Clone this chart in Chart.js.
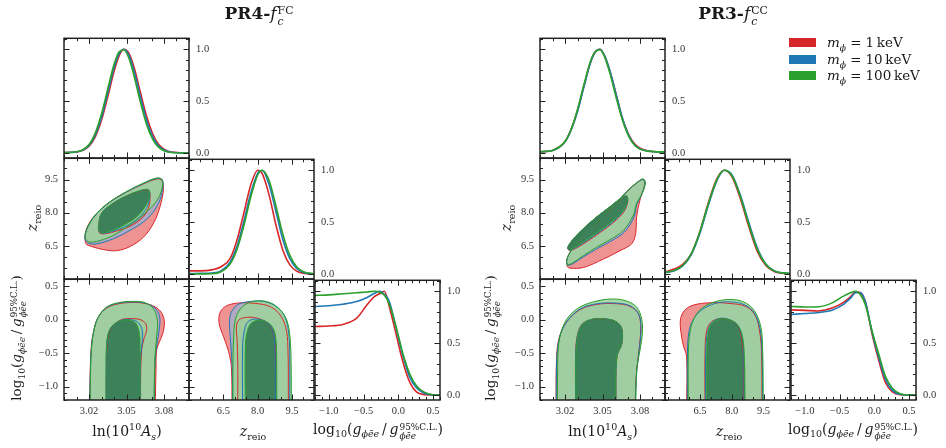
<!DOCTYPE html>
<html><head><meta charset="utf-8">
<script src="https://cdn.jsdelivr.net/npm/chart.js"></script>
<style>
html,body{margin:0;padding:0;background:#fff;}
#root{position:relative;width:946px;height:448px;overflow:hidden;background:#fff;}
canvas{position:absolute;}
.t{position:absolute;white-space:nowrap;font-family:'DejaVu Serif','Liberation Serif',serif;color:#1a1a1a;transform:translate(-50%,-50%);line-height:1;}
.t sub,.t sup{font-size:0.68em;line-height:0;}
.ss{display:inline-block;vertical-align:-0.55em;line-height:1.0;font-size:0.64em;margin-left:1px;}
.ss>span{display:block;}
.rot{transform:translate(-50%,-50%) rotate(-90deg);}
.lg{position:absolute;width:27px;height:9px;}
.eq{margin:0 0.3em;}
</style></head><body><div id="root"></div>
<script>
// ---------------- tick labels ----------------
const AS_TICKS = [3.02, 3.05, 3.08];
const Z_TICKS = [6.5, 8.0, 9.5];
const G_TICKS = [-1.0, -0.5, 0.0, 0.5];
const P_TICKS = [0.0, 0.5, 1.0];

// ---------------- LEFT (PR4) 1D marginals ----------------
const L_as_x     = [3.000,3.010,3.020,3.025,3.030,3.035,3.040,3.044,3.048,3.052,3.056,3.061,3.066,3.071,3.076,3.086,3.100];
const L_as_red   = [0.005,0.010,0.065,0.156,0.317,0.542,0.784,0.934,1.000,0.960,0.828,0.590,0.358,0.183,0.079,0.009,0.000];
const L_as_blue  = [0.005,0.011,0.073,0.172,0.345,0.580,0.820,0.955,1.000,0.940,0.790,0.545,0.318,0.155,0.064,0.007,0.000];
const L_as_green = [0.005,0.012,0.083,0.192,0.375,0.617,0.852,0.973,0.995,0.910,0.745,0.497,0.278,0.131,0.052,0.005,0.000];

const L_z_x     = [5.0,5.5,6.0,6.4,6.8,7.1,7.4,7.7,8.0,8.2,8.5,8.8,9.1,9.4,9.7,10.0,10.46];
const L_z_red   = [0.030,0.030,0.040,0.070,0.150,0.330,0.590,0.860,1.000,0.967,0.760,0.470,0.230,0.090,0.028,0.007,0.000];
const L_z_blue  = [0.005,0.006,0.010,0.030,0.116,0.270,0.510,0.780,0.970,0.997,0.860,0.600,0.330,0.150,0.053,0.015,0.001];
const L_z_green = [0.000,0.001,0.003,0.022,0.098,0.239,0.469,0.744,0.954,1.000,0.900,0.653,0.383,0.182,0.070,0.022,0.002];

const G_x       = [-1.2,-1.0,-0.8,-0.6,-0.45,-0.34,-0.27,-0.2,-0.13,-0.03,0.065,0.16,0.26,0.38,0.5,0.6];
const L_g_red   = [0.660,0.665,0.680,0.740,0.870,0.950,0.975,1.000,0.850,0.580,0.320,0.130,0.030,0.004,0.000,0.000];
const L_g_blue  = [0.853,0.860,0.875,0.900,0.940,0.980,1.000,0.970,0.900,0.640,0.380,0.180,0.070,0.015,0.001,0.000];
const L_g_green = [0.960,0.965,0.975,0.985,0.993,1.000,0.990,0.960,0.875,0.650,0.400,0.210,0.090,0.025,0.003,0.000];

// ---------------- LEFT 2D contours [x, y] ----------------
const L_AZ_redOut   = [[3.0168,6.89],[3.0185,7.35],[3.0255,7.93],[3.0365,8.47],[3.0500,8.93],[3.0635,9.30],[3.0740,9.52],[3.0782,9.47],[3.0795,9.04],[3.0768,8.27],[3.0715,7.51],[3.0635,6.89],[3.0528,6.47],[3.0421,6.28],[3.0315,6.33],[3.0221,6.47],[3.0176,6.59],[3.0168,6.89]];
const L_AZ_redIn    = [[3.0275,7.30],[3.0298,7.95],[3.0393,8.42],[3.0500,8.75],[3.0608,8.98],[3.0675,9.02],[3.0688,8.73],[3.0675,8.20],[3.0621,7.74],[3.0528,7.39],[3.0421,7.17],[3.0341,7.06],[3.0288,7.07],[3.0275,7.30]];
const L_AZ_blueOut  = [[3.0168,7.00],[3.0195,7.40],[3.0261,7.95],[3.0368,8.48],[3.0501,8.94],[3.0635,9.32],[3.0741,9.55],[3.0785,9.50],[3.0792,9.20],[3.0768,8.58],[3.0715,8.04],[3.0635,7.58],[3.0528,7.20],[3.0395,6.82],[3.0261,6.59],[3.0195,6.62],[3.0168,6.80],[3.0168,7.00]];
const L_AZ_blueIn   = [[3.0275,7.33],[3.0300,7.96],[3.0394,8.43],[3.0500,8.76],[3.0608,8.99],[3.0676,9.03],[3.0686,8.73],[3.0662,8.23],[3.0600,7.78],[3.0515,7.45],[3.0421,7.22],[3.0341,7.09],[3.0288,7.10],[3.0275,7.33]];
const L_AZ_greenOut = [[3.0168,7.05],[3.0195,7.43],[3.0261,7.97],[3.0368,8.50],[3.0501,8.96],[3.0635,9.34],[3.0741,9.57],[3.0781,9.52],[3.0789,9.27],[3.0768,8.81],[3.0728,8.43],[3.0661,8.04],[3.0581,7.66],[3.0501,7.35],[3.0395,6.97],[3.0288,6.74],[3.0208,6.67],[3.0176,6.78],[3.0168,7.05]];
const L_AZ_greenIn  = [[3.0275,7.35],[3.0301,7.97],[3.0395,8.43],[3.0501,8.76],[3.0608,9.00],[3.0675,9.04],[3.0683,8.73],[3.0648,8.27],[3.0581,7.81],[3.0501,7.51],[3.0421,7.28],[3.0341,7.12],[3.0288,7.12],[3.0275,7.35]];

const L_AG_redOut   = [[3.0205,-1.3],[3.0210,-0.754],[3.0218,-0.408],[3.0238,-0.16],[3.0272,0.03],[3.0340,0.17],[3.0435,0.235],[3.0555,0.255],[3.0648,0.24],[3.0728,0.19],[3.0781,0.10],[3.0803,-0.036],[3.0790,-0.209],[3.0763,-0.333],[3.0741,-0.457],[3.0736,-0.754],[3.0730,-1.3]];
const L_AG_redIn    = [[3.0340,-1.3],[3.0340,-0.754],[3.0345,-0.358],[3.0365,-0.17],[3.0395,-0.086],[3.0461,-0.001],[3.0541,0.014],[3.0608,-0.001],[3.0653,-0.06],[3.0661,-0.16],[3.0640,-0.284],[3.0621,-0.457],[3.0613,-0.85],[3.0613,-1.3]];
const L_AG_blueOut  = [[3.0206,-1.3],[3.0211,-0.754],[3.0220,-0.408],[3.0239,-0.16],[3.0273,0.034],[3.0340,0.18],[3.0435,0.245],[3.0555,0.262],[3.0648,0.245],[3.0728,0.17],[3.0765,0.05],[3.0762,-0.15],[3.0745,-0.35],[3.0728,-0.6],[3.0722,-1.3]];
const L_AG_blueIn   = [[3.0338,-1.3],[3.0338,-0.754],[3.0343,-0.358],[3.0364,-0.16],[3.0410,-0.06],[3.0470,-0.005],[3.0530,0.0],[3.0590,-0.04],[3.0625,-0.15],[3.0625,-0.35],[3.0610,-0.6],[3.0610,-1.3]];
const L_AG_greenOut = [[3.0208,-1.3],[3.0213,-0.754],[3.0221,-0.408],[3.0240,-0.16],[3.0275,0.038],[3.0341,0.186],[3.0435,0.251],[3.0555,0.271],[3.0648,0.251],[3.0715,0.163],[3.0747,-0.011],[3.0741,-0.26],[3.0728,-0.557],[3.0723,-0.854],[3.0720,-1.3]];
const L_AG_greenIn  = [[3.0336,-1.3],[3.0336,-0.754],[3.0341,-0.358],[3.0363,-0.16],[3.0408,-0.06],[3.0470,-0.011],[3.0528,-0.011],[3.0576,-0.06],[3.0603,-0.209],[3.0608,-0.506],[3.0608,-1.3]];

const L_ZG_redOut   = [[6.88,-1.3],[6.85,-0.705],[6.73,-0.482],[6.51,-0.259],[6.33,-0.085],[6.32,0.063],[6.48,0.162],[6.80,0.222],[7.32,0.246],[7.90,0.237],[8.49,0.197],[8.93,0.088],[9.22,-0.11],[9.32,-0.408],[9.34,-1.3]];
const L_ZG_redIn    = [[7.13,-1.3],[7.13,-0.655],[7.10,-0.309],[7.07,-0.11],[7.17,-0.011],[7.46,0.028],[7.90,0.023],[8.34,-0.036],[8.63,-0.16],[8.75,-0.358],[8.78,-0.655],[8.78,-1.3]];
const L_ZG_blueOut  = [[6.91,-1.3],[6.88,-0.655],[6.80,-0.259],[6.77,-0.011],[6.88,0.127],[7.17,0.226],[7.68,0.266],[8.27,0.266],[8.78,0.197],[9.15,0.063],[9.34,-0.16],[9.40,-0.506],[9.40,-1.3]];
const L_ZG_blueIn   = [[7.34,-1.3],[7.34,-0.408],[7.42,-0.16],[7.57,-0.036],[7.90,0.004],[8.30,-0.027],[8.61,-0.135],[8.74,-0.334],[8.78,-1.3]];
const L_ZG_greenOut = [[6.92,-1.3],[6.92,-0.655],[6.95,-0.259],[7.02,-0.011],[7.21,0.137],[7.54,0.237],[8.05,0.276],[8.56,0.246],[8.97,0.147],[9.27,-0.011],[9.41,-0.259],[9.46,-0.655],[9.47,-1.3]];
const L_ZG_greenIn  = [[7.46,-1.3],[7.46,-0.408],[7.54,-0.186],[7.71,-0.061],[8.05,-0.011],[8.39,-0.036],[8.68,-0.135],[8.80,-0.309],[8.83,-0.655],[8.83,-1.3]];

// ---------------- RIGHT (PR3) 1D marginals ----------------
const R_as_red   = [0.012,0.025,0.110,0.230,0.410,0.640,0.860,0.970,1.000,0.925,0.785,0.560,0.330,0.175,0.085,0.022,0.010];
const R_as_blue  = [0.012,0.025,0.108,0.225,0.400,0.630,0.855,0.970,1.000,0.930,0.790,0.560,0.335,0.170,0.075,0.019,0.010];
const R_as_green = [0.012,0.025,0.110,0.232,0.420,0.654,0.870,0.975,0.995,0.917,0.765,0.530,0.315,0.160,0.070,0.018,0.010];

const R_z_x     = [4.85,5.3,5.7,6.1,6.5,6.9,7.3,7.65,8.0,8.4,8.8,9.2,9.6,10.0,10.75];
const R_z_red   = [0.020,0.050,0.095,0.200,0.410,0.690,0.920,1.000,0.940,0.730,0.460,0.220,0.085,0.025,0.002];
const R_z_blue  = [0.013,0.032,0.080,0.190,0.395,0.665,0.900,1.000,0.960,0.765,0.500,0.255,0.100,0.032,0.003];
const R_z_green = [0.015,0.035,0.085,0.200,0.410,0.680,0.910,1.000,0.950,0.750,0.480,0.240,0.095,0.030,0.003];

const R_g_red   = [0.820,0.815,0.810,0.840,0.890,0.950,0.995,0.985,0.900,0.580,0.330,0.120,0.030,0.003,0.000,0.000];
const R_g_blue  = [0.776,0.785,0.795,0.820,0.870,0.935,0.985,0.985,0.900,0.600,0.360,0.150,0.045,0.006,0.000,0.000];
const R_g_green = [0.853,0.848,0.850,0.890,0.950,0.985,1.000,0.965,0.870,0.610,0.390,0.180,0.065,0.010,0.000,0.000];

// ---------------- RIGHT 2D contours ----------------
const R_AZ_redOut   = [[3.0219,5.55],[3.0213,5.83],[3.0240,6.20],[3.0320,6.80],[3.0427,7.41],[3.0560,8.10],[3.0693,8.93],[3.0787,9.40],[3.0825,9.50],[3.0838,9.30],[3.0800,8.58],[3.0773,7.81],[3.0765,7.05],[3.0733,6.59],[3.0640,6.28],[3.0507,5.90],[3.0347,5.52],[3.0240,5.49],[3.0219,5.55]];
const R_AZ_redIn    = [[3.0235,6.28],[3.0220,6.40],[3.0266,6.80],[3.0346,7.27],[3.0452,7.80],[3.0560,8.26],[3.0653,8.67],[3.0693,8.74],[3.0702,8.50],[3.0672,8.05],[3.0592,7.58],[3.0485,7.12],[3.0378,6.70],[3.0285,6.38],[3.0235,6.28]];
const R_AZ_blueOut  = [[3.0219,5.62],[3.0213,5.82],[3.0240,6.20],[3.0320,6.81],[3.0427,7.42],[3.0560,8.11],[3.0693,8.95],[3.0787,9.41],[3.0825,9.50],[3.0840,9.30],[3.0810,8.78],[3.0775,8.38],[3.0752,7.80],[3.0675,7.12],[3.0570,6.72],[3.0460,6.38],[3.0347,6.00],[3.0253,5.66],[3.0219,5.62]];
const R_AZ_blueIn   = [[3.0235,6.30],[3.0221,6.41],[3.0267,6.81],[3.0347,7.28],[3.0453,7.80],[3.0560,8.27],[3.0653,8.68],[3.0694,8.75],[3.0700,8.53],[3.0669,8.09],[3.0590,7.62],[3.0482,7.16],[3.0375,6.74],[3.0282,6.41],[3.0235,6.30]];
const R_AZ_greenOut = [[3.0219,5.64],[3.0213,5.83],[3.0240,6.21],[3.0320,6.82],[3.0427,7.43],[3.0560,8.12],[3.0693,8.96],[3.0787,9.42],[3.0827,9.53],[3.0843,9.34],[3.0813,8.81],[3.0773,8.43],[3.0747,7.89],[3.0667,7.20],[3.0560,6.78],[3.0453,6.44],[3.0347,6.06],[3.0253,5.70],[3.0219,5.64]];
const R_AZ_greenIn  = [[3.0235,6.32],[3.0221,6.41],[3.0267,6.82],[3.0347,7.28],[3.0453,7.81],[3.0560,8.27],[3.0653,8.68],[3.0693,8.76],[3.0699,8.55],[3.0667,8.12],[3.0587,7.66],[3.0480,7.20],[3.0373,6.78],[3.0280,6.44],[3.0235,6.32]];

const R_AG_redOut   = [[3.0128,-1.3],[3.0133,-0.557],[3.0155,-0.259],[3.0213,-0.036],[3.0320,0.147],[3.0453,0.226],[3.0613,0.236],[3.0720,0.197],[3.0787,0.088],[3.0805,-0.11],[3.0795,-0.408],[3.0773,-0.754],[3.0760,-1.3]];
const R_AG_redIn    = [[3.0285,-1.3],[3.0285,-0.506],[3.0302,-0.209],[3.0342,-0.06],[3.0427,0.005],[3.0533,0.005],[3.0615,-0.04],[3.0655,-0.14],[3.0655,-0.36],[3.0615,-0.56],[3.0607,-1.3]];
const R_AG_blueOut  = [[3.0130,-1.3],[3.0135,-0.557],[3.0158,-0.259],[3.0215,-0.03],[3.0320,0.155],[3.0453,0.235],[3.0613,0.245],[3.0720,0.205],[3.0787,0.09],[3.0808,-0.11],[3.0797,-0.408],[3.0775,-0.754],[3.0762,-1.3]];
const R_AG_blueIn   = [[3.0286,-1.3],[3.0286,-0.506],[3.0304,-0.209],[3.0344,-0.06],[3.0427,0.007],[3.0533,0.007],[3.0614,-0.038],[3.0654,-0.137],[3.0654,-0.36],[3.0614,-0.557],[3.0606,-1.3]];
const R_AG_greenOut = [[3.0139,-1.3],[3.0141,-0.754],[3.0147,-0.408],[3.0173,-0.16],[3.0227,0.038],[3.0320,0.186],[3.0453,0.276],[3.0587,0.306],[3.0693,0.276],[3.0773,0.186],[3.0813,0.014],[3.0819,-0.209],[3.0800,-0.457],[3.0773,-0.754],[3.0765,-1.3]];
const R_AG_greenIn  = [[3.0288,-1.3],[3.0288,-0.506],[3.0307,-0.209],[3.0347,-0.06],[3.0427,0.009],[3.0533,0.009],[3.0613,-0.036],[3.0653,-0.135],[3.0653,-0.358],[3.0613,-0.557],[3.0605,-1.3]];

const R_ZG_redOut   = [[5.87,-1.3],[5.87,-0.557],[5.71,-0.383],[5.59,-0.16],[5.59,0.014],[5.79,0.137],[6.19,0.212],[6.97,0.246],[7.92,0.236],[8.71,0.186],[9.14,0.038],[9.33,-0.209],[9.41,-0.506],[9.43,-1.3]];
const R_ZG_redIn    = [[6.74,-1.3],[6.74,-0.506],[6.82,-0.16],[7.05,-0.036],[7.45,0.009],[7.92,-0.011],[8.31,-0.11],[8.47,-0.309],[8.55,-0.557],[8.55,-1.3]];
const R_ZG_blueOut  = [[5.91,-1.3],[5.91,-0.506],[5.98,-0.185],[6.19,0.0],[6.58,0.14],[7.21,0.236],[7.92,0.26],[8.58,0.22],[9.05,0.10],[9.33,-0.13],[9.43,-0.457],[9.46,-1.3]];
const R_ZG_blueIn   = [[6.77,-1.3],[6.77,-0.506],[6.84,-0.23],[7.01,-0.07],[7.37,0.01],[7.80,0.005],[8.24,-0.07],[8.47,-0.23],[8.56,-0.506],[8.58,-1.3]];
const R_ZG_greenOut = [[5.95,-1.3],[5.95,-0.506],[6.03,-0.185],[6.22,0.014],[6.58,0.163],[7.21,0.261],[7.92,0.296],[8.55,0.261],[9.05,0.137],[9.37,-0.11],[9.46,-0.457],[9.49,-1.3]];
const R_ZG_greenIn  = [[6.82,-1.3],[6.82,-0.506],[6.87,-0.259],[7.01,-0.086],[7.37,-0.001],[7.79,-0.001],[8.20,-0.06],[8.47,-0.209],[8.59,-0.506],[8.63,-1.3]];

// ---------------- styling ----------------
const FONT = "'Liberation Serif','DejaVu Serif',serif";
const COL = {red:'#d62728', blue:'#1f77b4', green:'#2ca02c'};
const FILL = {
  red:   ['rgba(234,110,110,0.75)','rgba(200,45,45,0.85)'],
  blue:  ['rgba(150,180,215,0.70)','rgba(40,100,160,0.85)'],
  green: ['rgba(158,212,158,0.88)','rgba(58,127,88,0.97)']
};
const M = {l:46, r:36, t:12, b:26};
const root = document.getElementById('root');

const frameTicks = {
  id: 'frameTicks',
  afterDatasetsDraw(chart, args, o) {
    if (!o || !o.xStep) return;
    const {ctx, chartArea: a} = chart;
    const xs = chart.scales.x, ys = chart.scales.y;
    const isMajor = (v, list, st) => list.some(m => Math.abs(m - v) < st * 0.2);
    ctx.save();
    ctx.strokeStyle = '#222';
    ctx.lineWidth = 1;
    ctx.beginPath();
    let k0 = Math.ceil(xs.min / o.xStep - 1e-6), k1 = Math.floor(xs.max / o.xStep + 1e-6);
    for (let k = k0; k <= k1; k++) {
      const v = k * o.xStep, len = isMajor(v, o.xMajor, o.xStep) ? 5.5 : 3;
      const p = Math.round(xs.getPixelForValue(v)) + 0.5;
      ctx.moveTo(p, a.bottom); ctx.lineTo(p, a.bottom - len);
      ctx.moveTo(p, a.top); ctx.lineTo(p, a.top + len);
    }
    k0 = Math.ceil(ys.min / o.yStep - 1e-6); k1 = Math.floor(ys.max / o.yStep + 1e-6);
    for (let k = k0; k <= k1; k++) {
      const v = k * o.yStep, len = isMajor(v, o.yMajor, o.yStep) ? 5.5 : 3;
      const p = Math.round(ys.getPixelForValue(v)) + 0.5;
      ctx.moveTo(a.left, p); ctx.lineTo(a.left + len, p);
      ctx.moveTo(a.right, p); ctx.lineTo(a.right - len, p);
    }
    ctx.stroke();
    ctx.lineWidth = 1.5;
    ctx.strokeRect(a.left, a.top, a.right - a.left, a.bottom - a.top);
    ctx.restore();
  }
};
Chart.register(frameTicks);

const pts = arr => arr.map(([x, y]) => ({x, y}));
const curve = (xs, ys, c) => ({data: xs.map((x, i) => ({x, y: ys[i]})), showLine: true, fill: false,
  borderColor: c, borderWidth: 1.6, pointRadius: 0, cubicInterpolationMode: 'monotone'});
const poly = (arr, bg, c) => ({data: pts(arr), showLine: true, fill: 'shape', backgroundColor: bg,
  borderColor: c, borderWidth: 1, pointRadius: 0, tension: 0.35});
function curves(xs, r, b, g) { return [curve(xs, g, COL.green), curve(xs, b, COL.blue), curve(xs, r, COL.red)]; }
function contours(s) {
  const out = [];
  for (const k of ['green', 'blue', 'red']) {
    out.push(poly(s[k][1], FILL[k][1], COL[k]));
    out.push(poly(s[k][0], FILL[k][0], COL[k]));
  }
  return out;
}
const fmt = d => v => (v < -1e-9 ? '\u2212' : '') + Math.abs(v).toFixed(d);

function panel(rect, xr, yr, datasets, ax) {
  const W = rect.w + M.l + M.r, H = rect.h + M.t + M.b;
  const cv = document.createElement('canvas');
  cv.width = W; cv.height = H;
  cv.style.left = (rect.x - M.l) + 'px'; cv.style.top = (rect.y - M.t) + 'px';
  cv.style.width = W + 'px'; cv.style.height = H + 'px';
  root.appendChild(cv);
  const right = ax.ySide === 'right';
  const tickFont = {family: FONT, size: 10.5};
  new Chart(cv, {
    type: 'scatter',
    data: {datasets},
    options: {
      responsive: false, animation: false, devicePixelRatio: 1, events: [],
      layout: {padding: {left: right ? M.l : 0, right: right ? 0 : M.r, top: M.t, bottom: 0}},
      elements: {line: {capBezierPoints: false}, point: {radius: 0}},
      plugins: {legend: {display: false}, tooltip: {enabled: false},
        filler: {drawTime: 'beforeDatasetsDraw'}, frameTicks: ax},
      scales: {
        x: {type: 'linear', position: 'bottom', min: xr[0], max: xr[1],
          grid: {display: false, drawTicks: false}, border: {display: false},
          ticks: {display: !!ax.xLabels, padding: 5, font: tickFont, color: '#333', maxRotation: 0, autoSkip: false, callback: fmt(ax.xDec || 1)},
          afterBuildTicks: s => { s.ticks = (ax.xLabels || []).map(v => ({value: v})); },
          afterFit: s => { s.height = M.b; }},
        y: {type: 'linear', position: right ? 'right' : 'left', min: yr[0], max: yr[1],
          grid: {display: false, drawTicks: false}, border: {display: false},
          ticks: {display: !!ax.yLabels, padding: right ? 7 : 6, font: tickFont, color: '#333', autoSkip: false, callback: fmt(1)},
          afterBuildTicks: s => { s.ticks = (ax.yLabels || []).map(v => ({value: v})); },
          afterFit: s => { s.width = right ? M.r : M.l; }}
      }
    }
  });
}

// axis ranges
const AS_R = [3.0, 3.1], ZL_R = [5.0, 10.46], ZR_R = [4.85, 10.75], ZY_R = [5.0, 10.46], G_R = [-1.2, 0.6], P_R = [-0.048, 1.105];
const AS_T = {step: 0.01, major: AS_TICKS}, Z_T = {step: 0.5, major: Z_TICKS}, G_T = {step: 0.1, major: G_TICKS}, P_T = {step: 0.1, major: P_TICKS};
function ax(xt, yt, o) {
  return Object.assign({xStep: xt.step, xMajor: xt.major, yStep: yt.step, yMajor: yt.major}, o);
}

function triangle(X, S) {
  const rows = [37, 158, 279], w = 125, h = 121;
  panel({x: X[0], y: rows[0], w, h}, AS_R, P_R, S.as1d, ax(AS_T, P_T, {ySide: 'right', yLabels: P_TICKS}));
  panel({x: X[0], y: rows[1], w, h}, AS_R, ZY_R, contours(S.AZ), ax(AS_T, Z_T, {ySide: 'left', yLabels: Z_TICKS}));
  panel({x: X[1], y: rows[1], w, h}, S.zr, P_R, S.z1d, ax(Z_T, P_T, {ySide: 'right', yLabels: P_TICKS}));
  panel({x: X[0], y: rows[2], w, h}, AS_R, G_R, contours(S.AG), ax(AS_T, G_T, {ySide: 'left', yLabels: G_TICKS, xLabels: AS_TICKS, xDec: 2}));
  panel({x: X[1], y: rows[2], w, h}, S.zr, G_R, contours(S.ZG), ax(Z_T, G_T, {ySide: 'left', xLabels: Z_TICKS}));
  panel({x: X[2], y: rows[2], w, h}, G_R, P_R, S.g1d, ax(G_T, P_T, {ySide: 'right', yLabels: P_TICKS, xLabels: G_TICKS}));
}

triangle([64, 189, 315], {
  zr: ZL_R,
  as1d: curves(L_as_x, L_as_red, L_as_blue, L_as_green),
  z1d: curves(L_z_x, L_z_red, L_z_blue, L_z_green),
  g1d: curves(G_x, L_g_red, L_g_blue, L_g_green),
  AZ: {red: [L_AZ_redOut, L_AZ_redIn], blue: [L_AZ_blueOut, L_AZ_blueIn], green: [L_AZ_greenOut, L_AZ_greenIn]},
  AG: {red: [L_AG_redOut, L_AG_redIn], blue: [L_AG_blueOut, L_AG_blueIn], green: [L_AG_greenOut, L_AG_greenIn]},
  ZG: {red: [L_ZG_redOut, L_ZG_redIn], blue: [L_ZG_blueOut, L_ZG_blueIn], green: [L_ZG_greenOut, L_ZG_greenIn]}
});
triangle([540, 665, 791], {
  zr: ZR_R,
  as1d: curves(L_as_x, R_as_red, R_as_blue, R_as_green),
  z1d: curves(R_z_x, R_z_red, R_z_blue, R_z_green),
  g1d: curves(G_x, R_g_red, R_g_blue, R_g_green),
  AZ: {red: [R_AZ_redOut, R_AZ_redIn], blue: [R_AZ_blueOut, R_AZ_blueIn], green: [R_AZ_greenOut, R_AZ_greenIn]},
  AG: {red: [R_AG_redOut, R_AG_redIn], blue: [R_AG_blueOut, R_AG_blueIn], green: [R_AG_greenOut, R_AG_greenIn]},
  ZG: {red: [R_ZG_redOut, R_ZG_redIn], blue: [R_ZG_blueOut, R_ZG_blueIn], green: [R_ZG_greenOut, R_ZG_greenIn]}
});

// ---------------- text ----------------
const LOGT = 'log<sub>10</sub>(<i>g</i><sub><i>ϕēe</i></sub>&#8201;/&#8201;<i>g</i><span class="ss"><span>95%C.L.</span><span><i>ϕēe</i></span></span>)';
const LNT = 'ln(10<sup>10</sup><i>A</i><sub><i>s</i></sub>)';
const ZT = '<i>z</i><sub>reio</sub>';
const texts = [
  [259, 16, 17, '<b>PR4-</b><i>f</i><span class="ss"><span>FC</span><span><i>c</i></span></span>', false],
  [733, 16, 17, '<b>PR3-</b><i>f</i><span class="ss"><span>CC</span><span><i>c</i></span></span>', false],
  [32, 218, 14, ZT, true], [19, 338, 13.5, LOGT, true],
  [127, 431, 14, LNT, false], [253, 431, 14, ZT, false], [378, 431, 14, LOGT, false],
  [506, 218, 14, ZT, true], [493, 338, 13.5, LOGT, true],
  [603, 431, 14, LNT, false], [729, 431, 14, ZT, false], [853, 431, 14, LOGT, false]
];
for (const [x, y, fs, html, rot] of texts) {
  const d = document.createElement('div');
  d.className = 't' + (rot ? ' rot' : '');
  d.style.left = x + 'px'; d.style.top = y + 'px'; d.style.fontSize = fs + 'px';
  d.innerHTML = html;
  root.appendChild(d);
}
// legend
const LEG = [['red', '1'], ['blue', '10'], ['green', '100']];
LEG.forEach(([k, m], i) => {
  const sw = document.createElement('div');
  sw.className = 'lg'; sw.style.background = COL[k];
  sw.style.left = '789px'; sw.style.top = (38 + i * 16.7) + 'px';
  root.appendChild(sw);
  const t = document.createElement('div');
  t.className = 't'; t.style.transform = 'translate(0,-50%)';
  t.style.left = '827px'; t.style.top = (43 + i * 16.7) + 'px'; t.style.fontSize = '13.5px';
  t.innerHTML = '<i>m</i><sub><i>ϕ</i></sub><span class="eq">=</span>' + m + '&#8201;keV';
  root.appendChild(t);
});
</script></body></html>
